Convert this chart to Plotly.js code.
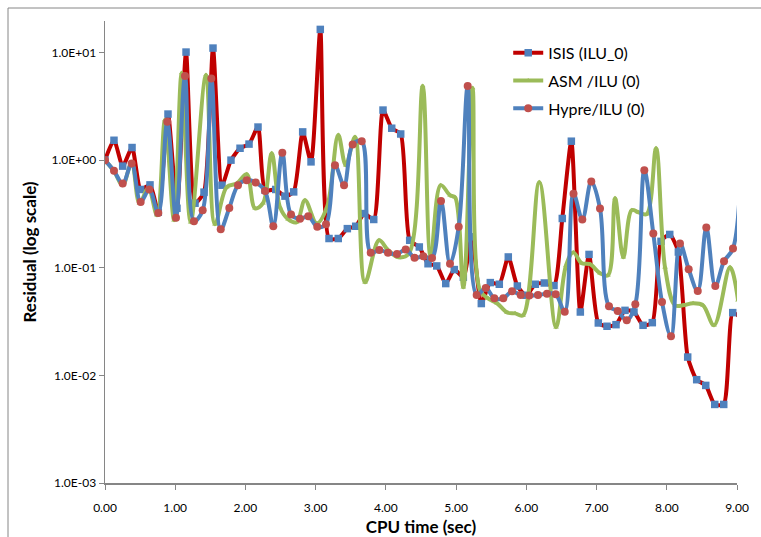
<!DOCTYPE html>
<html>
<head>
<meta charset="utf-8">
<script src="https://cdn.plot.ly/plotly-3.0.1.min.js"></script>
<style>
  html, body { margin: 0; padding: 0; background: #ffffff; }
  #chart { width: 761px; height: 537px; }
</style>
</head>
<body>
<div id="chart"></div>
<script>
// Residual history vs CPU time for three preconditioned solvers
const isisTime = [0, 0.128, 0.252, 0.385, 0.508, 0.641, 0.759, 0.897, 1.025, 1.154, 1.282, 1.410, 1.538, 1.666, 1.794, 1.923, 2.051, 2.179, 2.279, 2.431, 2.563, 2.687, 2.815, 2.934, 3.066, 3.190, 3.322, 3.451, 3.570, 3.693, 3.827, 3.959, 4.083, 4.211, 4.339, 4.476, 4.600, 4.724, 4.852, 4.974, 5.103, 5.222, 5.359, 5.487, 5.615, 5.743, 5.872, 5.995, 6.128, 6.256, 6.394, 6.512, 6.641, 6.769, 6.893, 7.025, 7.149, 7.277, 7.405, 7.533, 7.662, 7.794, 7.918, 8.042, 8.165, 8.298, 8.426, 8.555, 8.683, 8.811, 8.939, 9.057];
const isisResidual = [1.0, 1.53, 0.88, 1.31, 0.534, 0.589, 0.328, 2.68, 0.357, 10.1, 0.398, 0.504, 11.0, 0.585, 1.0, 1.29, 1.41, 2.03, 0.526, 0.534, 0.463, 0.507, 1.83, 0.964, 16.4, 0.187, 0.187, 0.231, 0.243, 0.319, 0.281, 2.92, 1.98, 1.75, 0.180, 0.156, 0.109, 0.104, 0.0713, 0.0962, 0.0816, 0.194, 0.0465, 0.0728, 0.0703, 0.126, 0.0677, 0.0555, 0.0703, 0.0722, 0.0683, 0.287, 1.50, 0.0388, 0.133, 0.0307, 0.0286, 0.0296, 0.0402, 0.0388, 0.0292, 0.0309, 0.176, 0.204, 0.140, 0.0148, 0.00912, 0.00807, 0.00537, 0.00537, 0.0383, 0.034];

const asmTime = [0, 0.128, 0.252, 0.380, 0.491, 0.617, 0.741, 0.854, 0.983, 1.092, 1.220, 1.438, 1.566, 1.733, 1.876, 2.018, 2.136, 2.250, 2.374, 2.492, 2.606, 2.730, 2.848, 3.015, 3.161, 3.322, 3.428, 3.560, 3.703, 3.902, 4.030, 4.177, 4.329, 4.524, 4.638, 4.781, 4.913, 4.984, 5.103, 5.234, 5.340, 5.454, 5.583, 5.725, 5.839, 5.953, 6.185, 6.423, 6.565, 6.669, 6.789, 6.907, 7.049, 7.163, 7.263, 7.381, 7.501, 7.595, 7.714, 7.847, 7.975, 8.117, 8.231, 8.374, 8.516, 8.673, 8.901, 9.015];
const asmResidual = [1.0, 0.790, 0.585, 0.958, 0.398, 0.549, 0.308, 2.36, 0.277, 6.45, 0.265, 6.18, 0.254, 0.561, 0.607, 0.741, 0.357, 0.398, 1.16, 0.366, 0.283, 0.265, 0.425, 0.259, 0.366, 1.71, 0.898, 1.64, 0.0733, 0.180, 0.146, 0.125, 0.136, 4.88, 0.125, 0.585, 0.472, 0.453, 0.0659, 4.67, 0.0617, 0.0520, 0.0468, 0.0385, 0.0377, 0.0361, 0.624, 0.0280, 0.105, 0.139, 0.110, 0.108, 0.0889, 0.0851, 0.443, 0.125, 0.343, 0.328, 0.315, 1.29, 0.101, 0.0448, 0.0448, 0.0468, 0.0448, 0.0292, 0.101, 0.0499];

const hypreTime = [0, 0.128, 0.252, 0.380, 0.508, 0.631, 0.759, 0.887, 1.011, 1.139, 1.267, 1.391, 1.514, 1.648, 1.770, 1.894, 2.018, 2.146, 2.279, 2.397, 2.525, 2.649, 2.777, 2.895, 3.023, 3.147, 3.275, 3.404, 3.527, 3.656, 3.784, 3.906, 4.030, 4.158, 4.282, 4.408, 4.533, 4.657, 4.785, 4.913, 5.037, 5.165, 5.293, 5.422, 5.544, 5.672, 5.796, 5.920, 6.042, 6.166, 6.294, 6.418, 6.547, 6.672, 6.797, 6.925, 7.049, 7.177, 7.301, 7.430, 7.552, 7.680, 7.808, 7.932, 8.060, 8.188, 8.312, 8.441, 8.563, 8.691, 8.815, 8.943, 9.07];
const hypreResidual = [1.0, 0.795, 0.607, 0.932, 0.409, 0.534, 0.323, 2.27, 0.291, 6.04, 0.271, 0.343, 5.75, 0.228, 0.360, 0.585, 0.652, 0.621, 0.518, 0.243, 1.17, 0.313, 0.285, 0.301, 0.240, 0.254, 0.898, 0.585, 1.40, 1.50, 0.138, 0.146, 0.138, 0.134, 0.148, 0.124, 0.128, 0.123, 0.418, 0.109, 0.240, 4.88, 0.0558, 0.0649, 0.0520, 0.0520, 0.0604, 0.0558, 0.0551, 0.0558, 0.0575, 0.0567, 0.0390, 0.488, 0.281, 0.634, 0.356, 0.0439, 0.0397, 0.0325, 0.0457, 0.807, 0.208, 0.0481, 0.0231, 0.168, 0.0969, 0.0608, 0.237, 0.0677, 0.115, 0.151, 2.0];

const seriesNames = ['ISIS (ILU_0)', 'ASM /ILU (0)', 'Hypre/ILU (0)'];
const yTickVals = [0.001, 0.01, 0.1, 1, 10];
const yTickText = ['1.0E-03', '1.0E-02', '1.0E-01', '1.0E+00', '1.0E+01'];
const xTickVals = [0, 1, 2, 3, 4, 5, 6, 7, 8, 9];
const xTickText = ['0.00', '1.00', '2.00', '3.00', '4.00', '5.00', '6.00', '7.00', '8.00', '9.00'];

const FONT = 'Lato, "Open Sans", "DejaVu Sans", sans-serif';
const AXIS_GREY = '#868686';

const traces = [
  {
    x: isisTime, y: isisResidual, name: seriesNames[0], legendgroup: 'isis',
    type: 'scatter', mode: 'lines+markers',
    line: { color: '#C00000', width: 4, shape: 'spline', smoothing: 0.6 },
    marker: { symbol: 'square', size: 7.5, color: '#4F81BD' }
  },
  {
    x: asmTime, y: asmResidual, name: seriesNames[1], legendgroup: 'asm',
    type: 'scatter', mode: 'lines+markers',
    line: { color: '#9BBB59', width: 4, shape: 'spline', smoothing: 1 },
    marker: { symbol: 'triangle-up', size: 5, color: '#9BBB59' }
  },
  {
    x: hypreTime, y: hypreResidual, name: seriesNames[2], legendgroup: 'hypre',
    type: 'scatter', mode: 'lines+markers',
    line: { color: '#4F81BD', width: 4, shape: 'spline', smoothing: 1 },
    marker: { symbol: 'circle', size: 8, color: '#C0504D' }
  }
];

const layout = {
  width: 761, height: 537,
  margin: { l: 105, r: 24, t: 21, b: 54 },
  paper_bgcolor: '#ffffff', plot_bgcolor: '#ffffff',
  font: { family: FONT, color: '#000000' },
  showlegend: true,
  legend: {
    x: 0.638, y: 0.968, xanchor: 'left', yanchor: 'top',
    traceorder: 'grouped',
    font: { family: FONT, size: 16, color: '#000000' },
    bgcolor: 'rgba(255,255,255,0)', tracegroupgap: 4
  },
  xaxis: {
    range: [0, 9], tickmode: 'array', tickvals: xTickVals, ticktext: xTickText,
    showgrid: false, zeroline: false, showline: true, linecolor: AXIS_GREY, linewidth: 1.5,
    ticks: 'outside', ticklen: 5, tickcolor: AXIS_GREY, tickwidth: 1,
    ticklabelstandoff: 8,
    tickfont: { family: FONT, size: 12, color: '#000000' },
    title: { text: 'CPU time (sec)', font: { family: FONT, size: 17, color: '#000000', weight: 'bold' }, standoff: 9 }
  },
  yaxis: {
    type: 'log', range: [-3, 1.293], tickmode: 'array', tickvals: yTickVals, ticktext: yTickText,
    showgrid: false, zeroline: false, showline: true, linecolor: AXIS_GREY, linewidth: 1.5,
    ticks: 'outside', ticklen: 5, tickcolor: AXIS_GREY, tickwidth: 1,
    ticklabelstandoff: 0,
    tickfont: { family: FONT, size: 12, color: '#000000' },
    title: { text: 'Residual (log scale)', font: { family: FONT, size: 17, color: '#000000', weight: 'bold' }, standoff: 10 }
  },
  shapes: [
    // outer chart frame (left and top edges fall inside the canvas)
    { type: 'rect', xref: 'paper', yref: 'paper',
      x0: -97 / 632, x1: 680 / 632, y0: -70 / 462, y1: 475 / 462,
      line: { color: AXIS_GREY, width: 1 }, fillcolor: 'rgba(0,0,0,0)' }
  ]
};

Plotly.newPlot('chart', traces, layout, { staticPlot: true, displayModeBar: false });
</script>
</body>
</html>
